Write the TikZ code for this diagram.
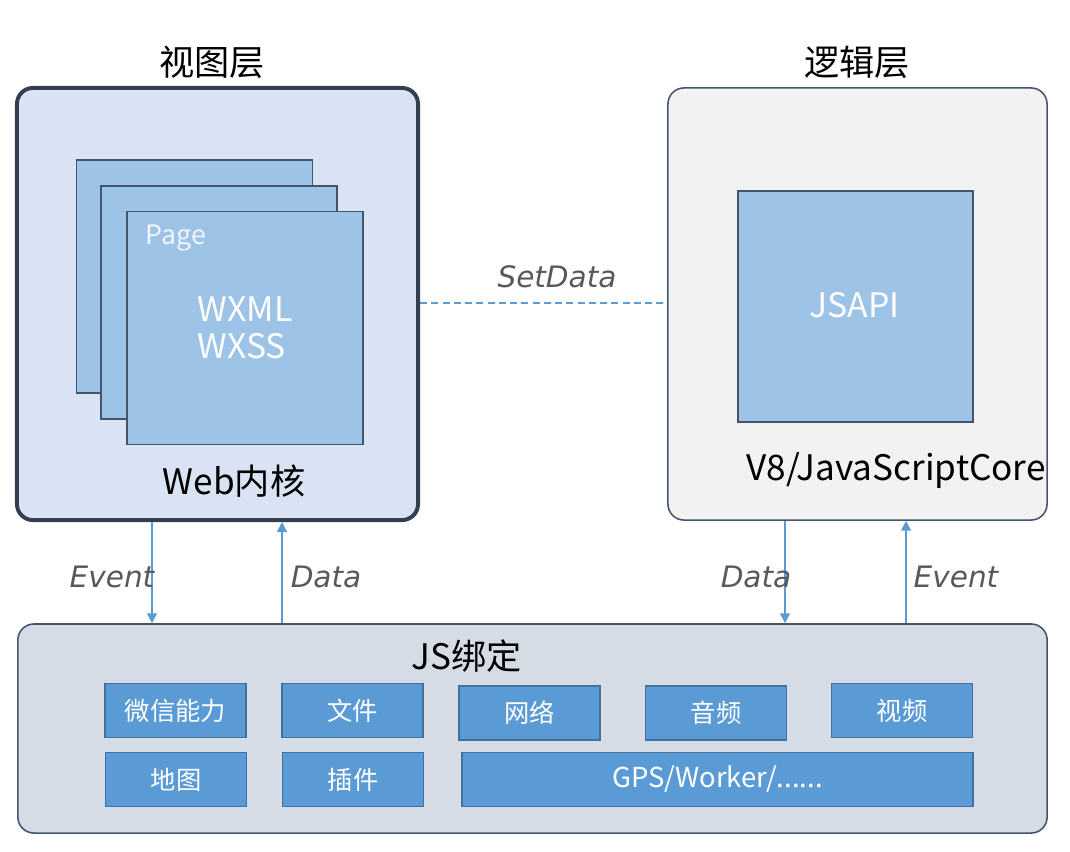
\documentclass[tikz,border=0pt]{standalone}
\usepackage{fontspec}
\setmainfont{Noto Sans CJK SC}
\newfontfamily\hand{DejaVu Sans}
\usetikzlibrary{arrows.meta}
\definecolor{viewfill}{HTML}{DAE3F3}
\definecolor{logicfill}{HTML}{F2F2F2}
\definecolor{bindfill}{HTML}{D6DCE5}
\definecolor{pagefill}{HTML}{9DC3E6}
\definecolor{apifill}{HTML}{5B9BD5}
\definecolor{frame}{HTML}{44546A}
\definecolor{darkframe}{HTML}{333F50}
\definecolor{apiframe}{HTML}{41719C}
\definecolor{handgray}{HTML}{595959}
\begin{document}
\begin{tikzpicture}[x=0.025cm,y=-0.025cm]

\def\boxw{3.525cm}
\def\boxh{1.35cm}
\def\pagew{5.9cm}
\def\pageh{5.825cm}

\tikzset{layer/.style = {draw=frame, line width=1.1pt, rounded corners=0.4cm, minimum height=10.8cm}}
\tikzset{page/.style = {draw=frame, line width=1pt, fill=pagefill, minimum width=\pagew, minimum height=\pageh}}
\tikzset{api/.style = {draw=apiframe, line width=1.2pt, fill=apifill, minimum width=\boxw, minimum height=\boxh, text=white, font=\fontsize{18}{21}\selectfont}}
\tikzset{title/.style = {font=\fontsize{25}{29}\selectfont}}
\tikzset{flow/.style = {draw=apifill, line width=1pt, -{Triangle[length=7pt,width=7pt]}}}
\tikzset{tag/.style = {text=handgray, font=\hand\itshape\fontsize{21}{25}\selectfont}}

\useasboundingbox (0,0) rectangle (1070,851);

% layers
\node[layer, fill=viewfill, draw=darkframe, line width=2.8pt, minimum width=10.025cm] (view) at (217.5,304) {};
\node[layer, fill=logicfill, minimum width=9.475cm] (logic) at (857.5,304) {};
\node[layer, fill=bindfill, minimum width=25.725cm, minimum height=5.225cm] (bind) at (532.5,728.5) {};

\node[title] (viewt) at (212,62) {视图层};
\node[title] (logict) at (857,62) {逻辑层};

% pages
\node[page] (page1) at (194.5,276.5) {};
\node[page] (page2) at (219,302.5) {};
\node[page] (page3) at (245,328) {};
\node[text=white!85!pagefill, font=\fontsize{19}{22}\selectfont] (paget) at (176,238) {Page};
\node[text=white, font=\fontsize{24}{28}\selectfont, align=left] (wxml) at (245,328) {WXML\\[-2pt]WXSS};
\node[title] (webt) at (234,481) {Web内核};

% logic
\node[page, minimum width=5.875cm, minimum height=5.775cm] (jsapi) at (855.5,306.5) {};
\node[text=white, font=\fontsize{24}{28}\selectfont] (jsapit) at (854.5,305) {JSAPI};
\node[title] (v8t) at (896,471) {V8/JavaScriptCore};

% SetData
\draw[apifill, line width=1pt, dashed, dash pattern=on 5pt off 3pt] (view.east |- 0,303) coordinate (sd1) -- (logic.west |- sd1);
\node[tag] (sdt) at (557,277) {SetData};

% JS binding
\node[title] (bindt) at (467,656) {JS绑定};
\node[api] (wx) at (175.5,710.5) {微信能力};
\node[api] (file) at (352.5,710.5) {文件};
\node[api] (net) at (529.5,713) {网络};
\node[api] (audio) at (716,713) {音频};
\node[api] (video) at (902,710.5) {视频};
\node[api] (map) at (176,779.5) {地图};
\node[api] (plugin) at (353,779.5) {插件};
\node[api, minimum width=12.775cm, font=\fontsize{19.5}{22}\selectfont] (gps) at (717.5,779.5) {GPS/Worker/......};

% arrows
\coordinate (e1) at (152,0);
\coordinate (d1) at (282,0);
\coordinate (d2) at (785,0);
\coordinate (e2) at (906,0);
\draw[flow] (view.south -| e1) -- (bind.north -| e1);
\draw[flow] (bind.north -| d1) -- (view.south -| d1);
\draw[flow] (logic.south -| d2) -- (bind.north -| d2);
\draw[flow] (bind.north -| e2) -- (logic.south -| e2);

\node[tag] (ev1) at (112,577) {Event};
\node[tag] (da1) at (326,577) {Data};
\node[tag] (da2) at (756,577) {Data};
\node[tag] (ev2) at (956,577) {Event};

\end{tikzpicture}
\end{document}
